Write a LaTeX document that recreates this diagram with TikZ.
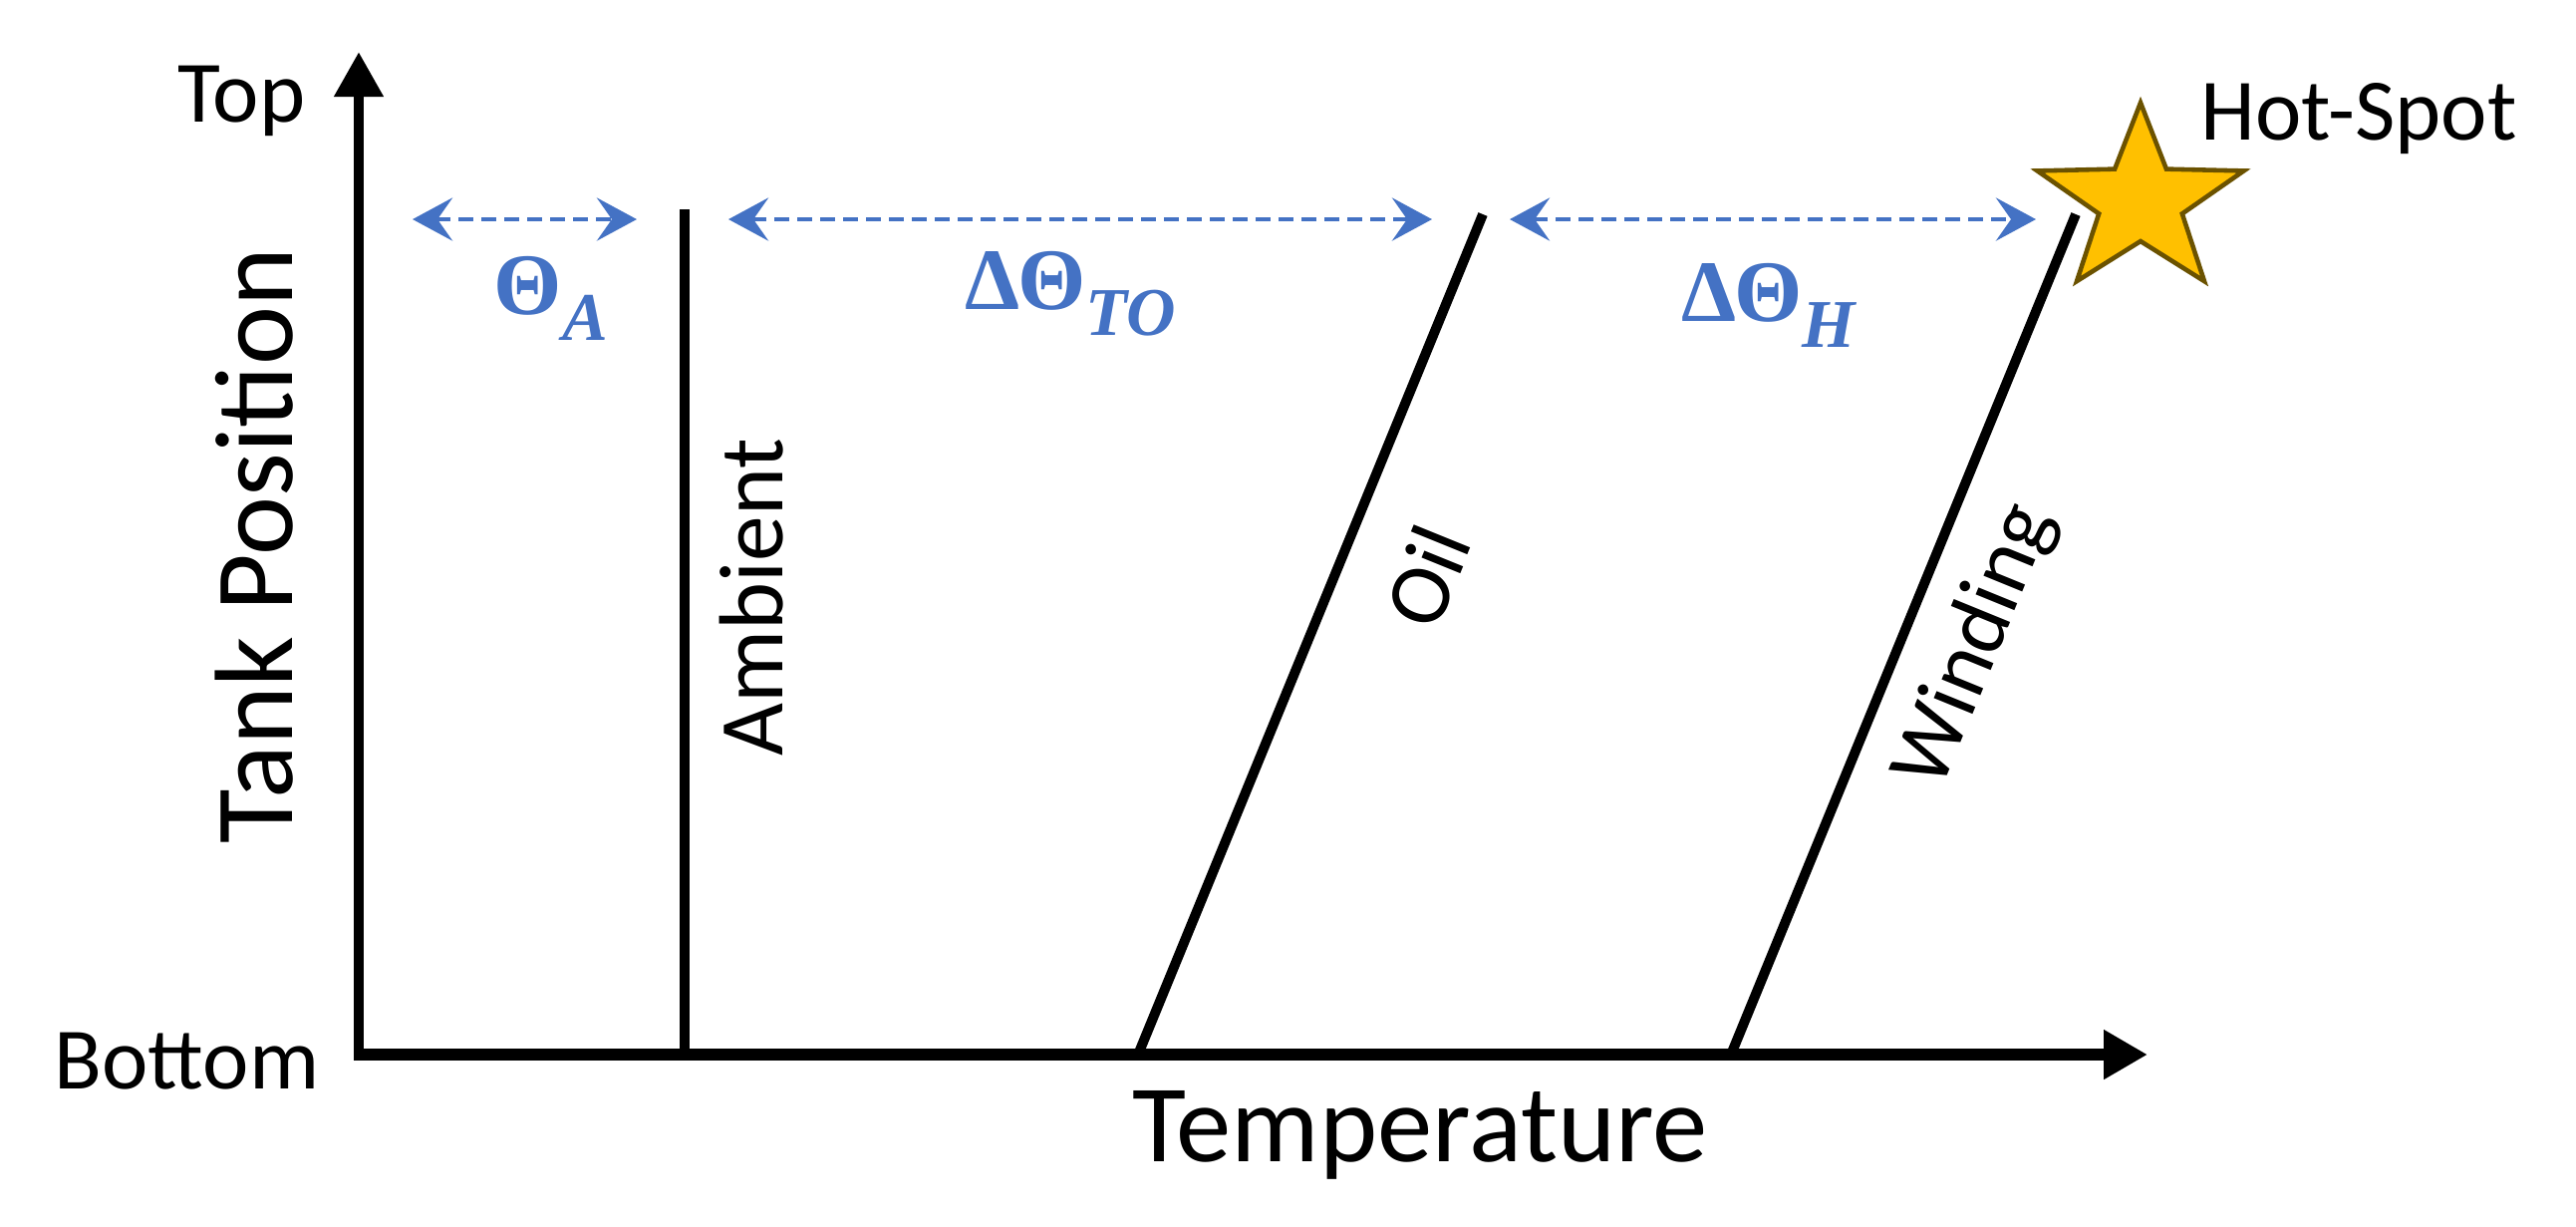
\documentclass[tikz,border=0pt]{standalone}
\usepackage{fontspec}
\setmainfont{Carlito}
\newfontfamily\mfont{Liberation Serif}
\usetikzlibrary{arrows.meta}
\definecolor{oblue}{HTML}{4472C4}
\definecolor{starfill}{HTML}{FFC000}
\definecolor{starline}{HTML}{6B5200}
\newcommand{\msub}[1]{\raisebox{-2.6mm}{\fontsize{19.5}{22}\selectfont\itshape #1}}
\begin{document}
\begin{tikzpicture}[x=0.1mm,y=-0.1mm,
  yaxis/.style={line width=3.0pt, -{Triangle[length=4.5mm,width=4.7mm]}},
  xaxis/.style={line width=3.5pt, -{Triangle[length=4.4mm,width=4.7mm]}},
  tline/.style={line width=2.8pt},
  dimarrow/.style={oblue, line width=1.4pt, dash pattern=on 1.5mm off 0.8mm,
     {Stealth[length=4mm,width=4.3mm,inset=1.5mm]}-{Stealth[length=4mm,width=4.3mm,inset=1.5mm]}},
  lbl/.style={font=\fontsize{25}{28}\selectfont, inner sep=0pt},
  lblb/.style={font=\fontsize{26}{30}\selectfont, inner sep=0pt},
  bigy/.style={font=\fontsize{31.8}{38}\selectfont, inner sep=0pt},
  bigx/.style={font=\fontsize{31.5}{38}\selectfont, inner sep=0pt},
  mlbl/.style={text=oblue, font=\mfont\bfseries\fontsize{25}{28}\selectfont, inner sep=0pt}]
\path[use as bounding box] (0,0) rectangle (2585,1230);

% axes
\coordinate (O) at (360,1058);
\coordinate (Oy) at (360,1064);
\coordinate (Ox) at (355,1058);
\coordinate (ytop) at (360,52);
\coordinate (xend) at (2155,1058);
\draw[yaxis] (Oy) -- (ytop);
\draw[xaxis] (Ox) -- (xend);

% temperature lines
\coordinate (amb0) at (687,1058);
\coordinate (amb1) at (687,210);
\coordinate (oil0) at (1142,1058);
\coordinate (oil1) at (1488,215);
\coordinate (wnd0) at (1737,1058);
\coordinate (wnd1) at (2083,215);
\draw[tline] (amb0) -- (amb1);
\draw[tline] (oil0) -- (oil1);
\draw[tline] (wnd0) -- (wnd1);

% dimension arrows
\coordinate (a1) at (414,220);
\coordinate (a2) at (639,220);
\coordinate (b1) at (731,220);
\coordinate (b2) at (1437,220);
\coordinate (c1) at (1515,220);
\coordinate (c2) at (2043,220);
\draw[dimarrow] (a1) -- (a2);
\draw[dimarrow] (b1) -- (b2);
\draw[dimarrow] (c1) -- (c2);

% math labels
\node[mlbl, anchor=base west] (thA) at (495,315) {Θ\msub{A}};
\node[mlbl, anchor=base west] (thTO) at (968,310) {ΔΘ\msub{TO}};
\node[mlbl, anchor=base west] (thH) at (1687,322) {ΔΘ\msub{H}};

% star
\filldraw[fill=starfill, draw=starline, line width=1.3pt, line join=miter]
  (2148,103) -- (2173.9,169.6) -- (2251.6,171.4) -- (2189.8,214.4) -- (2212,282.1)
  -- (2148,242) -- (2084,282.1) -- (2106.2,214.4) -- (2044.4,171.4) -- (2122.1,169.6) -- cycle;

% text labels
\node[lbl, anchor=base east] (top) at (307,122) {Top};
\node[lbl, anchor=base east] (bottom) at (321,1092) {Bottom};
\node[lbl, anchor=base west] (hot) at (2208,140) {Hot-Spot};
\node[bigx, anchor=base] (temp) at (1425,1165) {Temperature};
\node[bigy, rotate=90, anchor=base] (tank) at (293,548) {Tank Position};
\node[lblb, rotate=90, anchor=base] (amb) at (785,599) {Ambient};
\node[lbl, rotate=67.9] (oil) at (1432,578) {Oil};
\node[lbl, rotate=67.8] (wind) at (1983,648) {Winding};
\end{tikzpicture}
\end{document}
